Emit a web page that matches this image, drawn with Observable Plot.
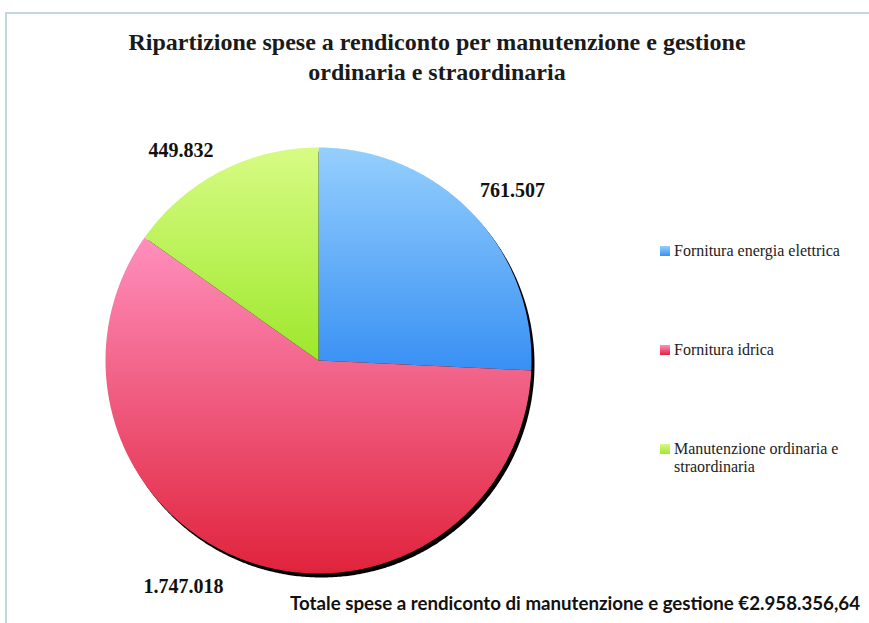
<!DOCTYPE html>
<html>
<head>
<meta charset="utf-8">
<script src="https://cdn.jsdelivr.net/npm/d3@7"></script>
<script src="https://cdn.jsdelivr.net/npm/@observablehq/plot@0.6"></script>
<style>
  html, body { margin: 0; padding: 0; background: #fff; }
  #wrap { position: relative; width: 869px; height: 623px; overflow: hidden; background: #fff; }
  #frame { position: absolute; left: 5px; top: 12px; width: 900px; height: 700px;
           border-top: 2px solid #c3d9d9; border-left: 2px solid #c3d9d9; box-sizing: border-box; }
  .title { position: absolute; left: 0; width: 874px; text-align: center;
           font-family: "Liberation Serif", "Times New Roman", serif; font-weight: bold;
           font-size: 24px; color: #1a1a1a; white-space: nowrap; }
  #chart { position: absolute; left: 0; top: 120px; }
  .leg { position: absolute; left: 660px; font-family: "Liberation Serif", "Times New Roman", serif; font-size: 16px;
         color: #222; line-height: 18px; }
  .leg .sw { position: absolute; left: 0; top: 4px; width: 10px; height: 10px; }
  .leg .tx { margin-left: 14px; display: block; }
  #footer { position: absolute; right: 9px; top: 592px; font-family: Lato, "Open Sans", sans-serif;
            font-weight: bold; font-size: 18.7px; color: #111; white-space: nowrap; }
</style>
</head>
<body>
<div id="wrap">
  <div id="frame"></div>
  <div class="title" id="t1" style="top:29px"></div>
  <div class="title" id="t2" style="top:59px"></div>
  <div id="chart"></div>
  <div id="legend"></div>
  <div id="footer"></div>
</div>
<script>
// ---- data ----
const titleLines = ["Ripartizione spese a rendiconto per manutenzione e gestione", "ordinaria e straordinaria"];
const categories = ["Fornitura energia elettrica", "Fornitura idrica", "Manutenzione ordinaria e straordinaria"];
const values = [761507, 1747018, 449832];
const valueLabels = ["761.507", "1.747.018", "449.832"];
const footerText = "Totale spese a rendiconto di manutenzione e gestione €2.958.356,64";

// ---- styles ----
const gradients = [
  {id: "gBlue", top: "#95cffd", bottom: "#3890f4"},
  {id: "gPink", top: "#ff8fbd", bottom: "#e0233c"},
  {id: "gGreen", top: "#d7fb84", bottom: "#9ee82c"}
];

document.getElementById("t1").textContent = titleLines[0];
document.getElementById("t2").textContent = titleLines[1];
document.getElementById("footer").textContent = footerText;

// pie geometry from data
const arcs = d3.pie().sort(null).value(d => d)(values);
const points = [];
arcs.forEach((a, i) => {
  const cat = categories[i];
  points.push({cat, x: 0, y: 0});
  const n = Math.max(2, Math.ceil((a.endAngle - a.startAngle) / 0.01));
  for (let k = 0; k <= n; k++) {
    const t = a.startAngle + (a.endAngle - a.startAngle) * k / n;
    points.push({cat, x: Math.sin(t), y: Math.cos(t)});
  }
  points.push({cat, x: 0, y: 0});
});
const circle = [];
for (let k = 0; k <= 720; k++) {
  const t = 2 * Math.PI * k / 720;
  circle.push({x: Math.sin(t), y: Math.cos(t)});
}
const labelPts = arcs.map((a, i) => {
  const m = (a.startAngle + a.endAngle) / 2;
  return {label: valueLabels[i], x: 1.2 * Math.sin(m), y: 1.2 * Math.cos(m)};
});
const labelShift = [[9, 7], [-52, -16], [-20, 17]];

const textStyle = {fontFamily: "Liberation Serif, serif", fontWeight: "bold", fontSize: 20, fill: "#111"};

const plot = Plot.plot({
  width: 869,
  height: 480,
  marginLeft: 105,
  marginRight: 338,
  marginTop: 27,
  marginBottom: 27,
  x: {domain: [-1, 1], axis: null},
  y: {domain: [-1, 1], axis: null},
  color: {domain: categories, range: gradients.map(g => `url(#${g.id})`)},
  marks: [
    Plot.line(circle, {x: "x", y: "y", fill: "#000", stroke: "none", dx: 3, dy: 4}),
    Plot.line(points, {x: "x", y: "y", z: "cat", fill: "cat", stroke: "none"}),
    ...labelPts.map((d, i) => Plot.text([d], {
      x: "x", y: "y", text: "label", dx: labelShift[i][0], dy: labelShift[i][1], ...textStyle
    }))
  ]
});

// gradient definitions
const defs = d3.create("svg:defs");
gradients.forEach(g => {
  const lg = defs.append("linearGradient").attr("id", g.id).attr("x1", 0).attr("y1", 0).attr("x2", 0).attr("y2", 1);
  lg.append("stop").attr("offset", "0%").attr("stop-color", g.top);
  lg.append("stop").attr("offset", "100%").attr("stop-color", g.bottom);
});
plot.insertBefore(defs.node(), plot.firstChild);
document.getElementById("chart").appendChild(plot);

// legend
const legendTops = [242, 341, 440];
const legend = document.getElementById("legend");
categories.forEach((c, i) => {
  const g = gradients[i];
  const el = document.createElement("div");
  el.className = "leg";
  el.style.top = legendTops[i] + "px";
  el.style.width = "190px";
  el.innerHTML = `<span class="sw" style="background:linear-gradient(${g.top}, ${g.bottom})"></span><span class="tx"></span>`;
  el.querySelector(".tx").textContent = c;
  legend.appendChild(el);
});
</script>
</body>
</html>
